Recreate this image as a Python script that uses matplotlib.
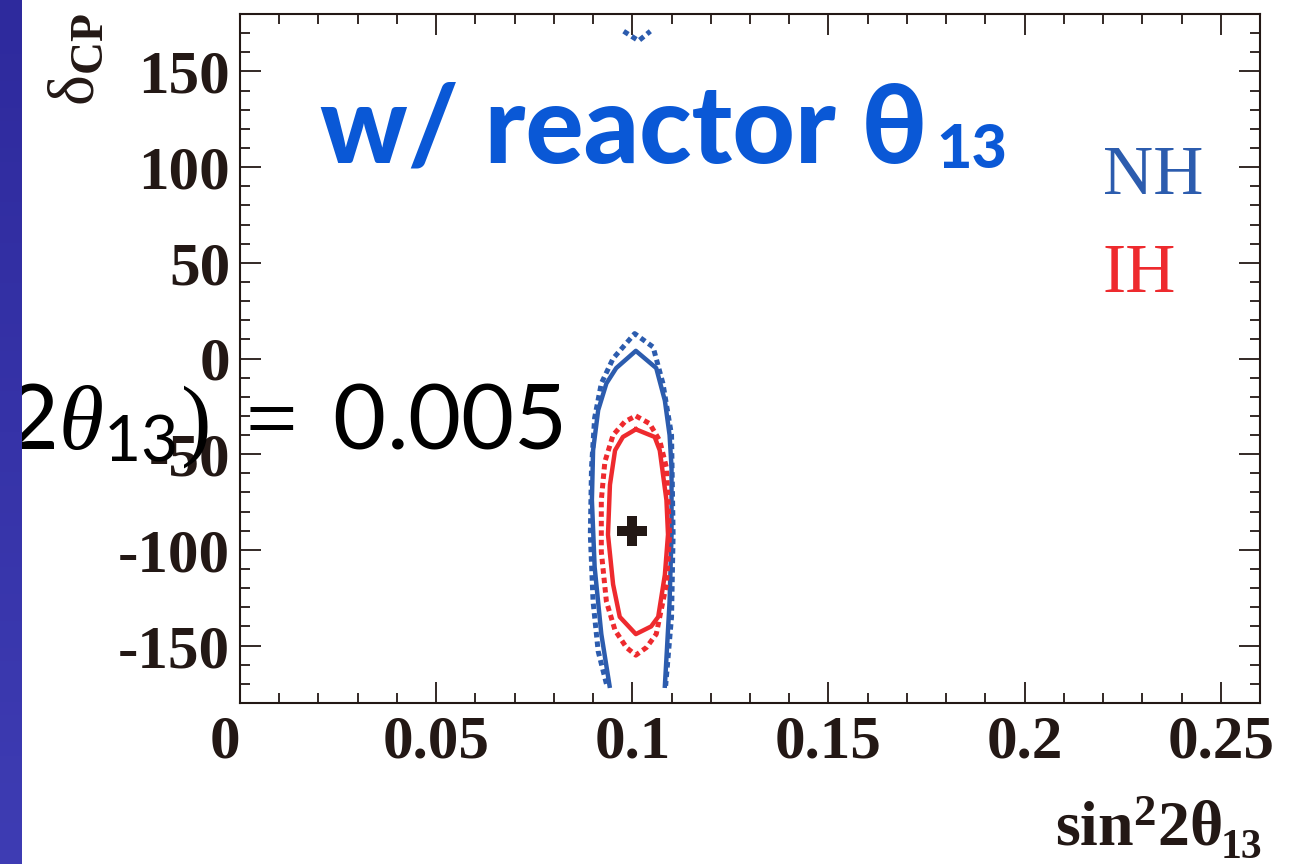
import numpy as np
import matplotlib
matplotlib.use("Agg")
import matplotlib.pyplot as plt
from matplotlib.ticker import MultipleLocator
from matplotlib.colors import LinearSegmentedColormap

# fonts for the ROOT-like axis labels (Times-like bold) and the slide formula (sans digits)
plt.rcParams["mathtext.rm"] = "Liberation Serif"
plt.rcParams["mathtext.it"] = "Liberation Serif:italic"
plt.rcParams["mathtext.bf"] = "Liberation Serif:bold"
plt.rcParams["mathtext.sf"] = "Lato"

# --------------------------
# Data
# --------------------------
x_ticks = [0, 0.05, 0.1, 0.15, 0.2, 0.25]
x_ticklabels = ["0", "0.05", "0.1", "0.15", "0.2", "0.25"]
y_ticks = [-150, -100, -50, 0, 50, 100, 150]
y_ticklabels = ["-150", "-100", "-50", "0", "50", "100", "150"]

# NH (normal hierarchy) contours
nh_solid_x = [0.0942, 0.0921, 0.0904, 0.0897, 0.0900, 0.0913, 0.0934, 0.0959, 0.1009,
              0.1061, 0.1083, 0.1095, 0.1100, 0.1100, 0.1095, 0.1088, 0.1083]
nh_solid_y = [-171, -144, -109, -74, -48, -27, -13, -5, 4,
              -5, -22, -40, -57, -92, -127, -153, -171]
nh_dash_x = [0.0934, 0.0913, 0.0900, 0.0893, 0.0896, 0.0904, 0.0921, 0.0951, 0.1006,
             0.1053, 0.1078, 0.1100, 0.1104, 0.1100, 0.1085]
nh_dash_y = [-170, -153, -127, -92, -57, -31, -13, 0, 13,
             6, -13, -40, -92, -135, -171]
# part of the dashed NH contour wrapping round to the top
nh_dash_top_x = [0.0978, 0.1016, 0.1046]
nh_dash_top_y = [171, 166, 171]

# IH (inverted hierarchy) contours
ih_solid_x = [0.1009, 0.1057, 0.1070, 0.1087, 0.1091, 0.1083, 0.1066, 0.1048, 0.1009,
              0.0968, 0.0951, 0.0938, 0.0943, 0.0956, 0.0976, 0.1009]
ih_solid_y = [-37, -41, -48, -74, -92, -113, -135, -140, -144,
              -135, -118, -92, -66, -48, -41, -37]
ih_dash_x = [0.1009, 0.1044, 0.1070, 0.1087, 0.1095, 0.1087, 0.1061, 0.1036, 0.1009,
             0.0985, 0.0956, 0.0934, 0.0921, 0.0921, 0.0930, 0.0951, 0.0981, 0.1009]
ih_dash_y = [-30, -34, -43, -57, -92, -118, -144, -151, -155,
             -151, -142, -127, -101, -74, -54, -40, -33, -30]

best_fit_x = [0.1]
best_fit_y = [-90]

BLUE = "#2c5cae"
RED = "#ee2a2e"
DARK = "#231815"
TITLE_BLUE = "#0a58d6"

fig = plt.figure(figsize=(13.04, 8.64), dpi=100)
fig.patch.set_facecolor("white")
ax = fig.add_axes([240 / 1304, 161 / 864, 1020 / 1304, 689 / 864])

dotted = (0, (1.1, 0.8))
ax.plot(nh_solid_x, nh_solid_y, color=BLUE, lw=3.2)
ax.plot(nh_dash_x, nh_dash_y, color=BLUE, lw=3.6, ls=dotted)
ax.plot(nh_dash_top_x, nh_dash_top_y, color=BLUE, lw=3.6, ls=dotted)
ax.plot(ih_solid_x, ih_solid_y, color=RED, lw=3.2)
ax.plot(ih_dash_x, ih_dash_y, color=RED, lw=3.6, ls=dotted)
ax.plot(best_fit_x, best_fit_y, ls="none", marker="P", ms=21, color=DARK, mew=0)

ax.set_xlim(0, 0.26)
ax.set_ylim(-180, 180)
tick_font = dict(family="Liberation Serif", weight="bold", size=44)
ax.set_xticks(x_ticks, x_ticklabels, **tick_font, color=DARK)
ax.set_yticks(y_ticks, y_ticklabels, **tick_font, color=DARK)
ax.get_xticklabels()[0].set_ha("right")
ax.xaxis.set_minor_locator(MultipleLocator(0.01))
ax.yaxis.set_minor_locator(MultipleLocator(10))
ax.tick_params(which="both", direction="in", top=True, right=True, color=DARK, width=1.3)
ax.tick_params(which="major", length=15)
ax.tick_params(which="minor", length=7.5)
ax.tick_params(axis="x", pad=8.5)
ax.tick_params(axis="y", pad=7)
for sp in ax.spines.values():
    sp.set_linewidth(1.5)
    sp.set_color(DARK)

# legend-like labels
ax.text(0.846, 0.739, "NH", transform=ax.transAxes, color=BLUE,
        family="Liberation Serif", fontsize=50, va="baseline")
ax.text(0.846, 0.5965, "IH", transform=ax.transAxes, color=RED,
        family="Liberation Serif", fontsize=50, va="baseline")

# slide overlay text
t = ax.text(0.078, 0.785, "w/ reactor θ", transform=ax.transAxes, color=TITLE_BLUE,
            family=["Lato", "DejaVu Sans"], weight="black", fontsize=78, va="baseline")
ax.annotate("13", xy=(1, 0), xycoords=t, xytext=(7, 9), textcoords="offset points",
            color=TITLE_BLUE, family=["Lato", "DejaVu Sans"], weight="black",
            fontsize=44, va="baseline")

# axis titles
fig.text(76 / 1304, 1 - 13 / 864, r"$\mathrm{\delta}_{\mathbf{CP}}$", rotation=90,
         ha="center", va="top", fontsize=47, math_fontfamily="custom", color=DARK)
fig.text(1222 / 1304, 1 - 845 / 864, r"$\mathbf{sin}^{\mathbf{2}}\mathbf{2\theta}$",
         ha="right", va="baseline", fontsize=46, math_fontfamily="custom", color=DARK)
fig.text(1262 / 1304, 1 - 829 / 864, "13", ha="right", va="top", fontsize=30,
         family="Liberation Serif", weight="bold", color=DARK)

# big formula from the slide, partly hidden by the side bar
fig.text(563 / 1304, 1 - 449 / 864, r"$\mathsf{(2}\theta_{\mathsf{13}})\ =\ \mathsf{0.005}$",
         ha="right", va="baseline", fontsize=66, math_fontfamily="custom", color="black", zorder=5)

# slide side bar
bar = fig.add_axes([0, 0, 22 / 1304, 1], zorder=10)
bar.imshow(np.linspace(0, 1, 64).reshape(-1, 1), aspect="auto",
           cmap=LinearSegmentedColormap.from_list("bar", ["#2e2a9d", "#3e3cb3"]))
bar.axis("off")

fig.savefig("out.png", dpi=100)
